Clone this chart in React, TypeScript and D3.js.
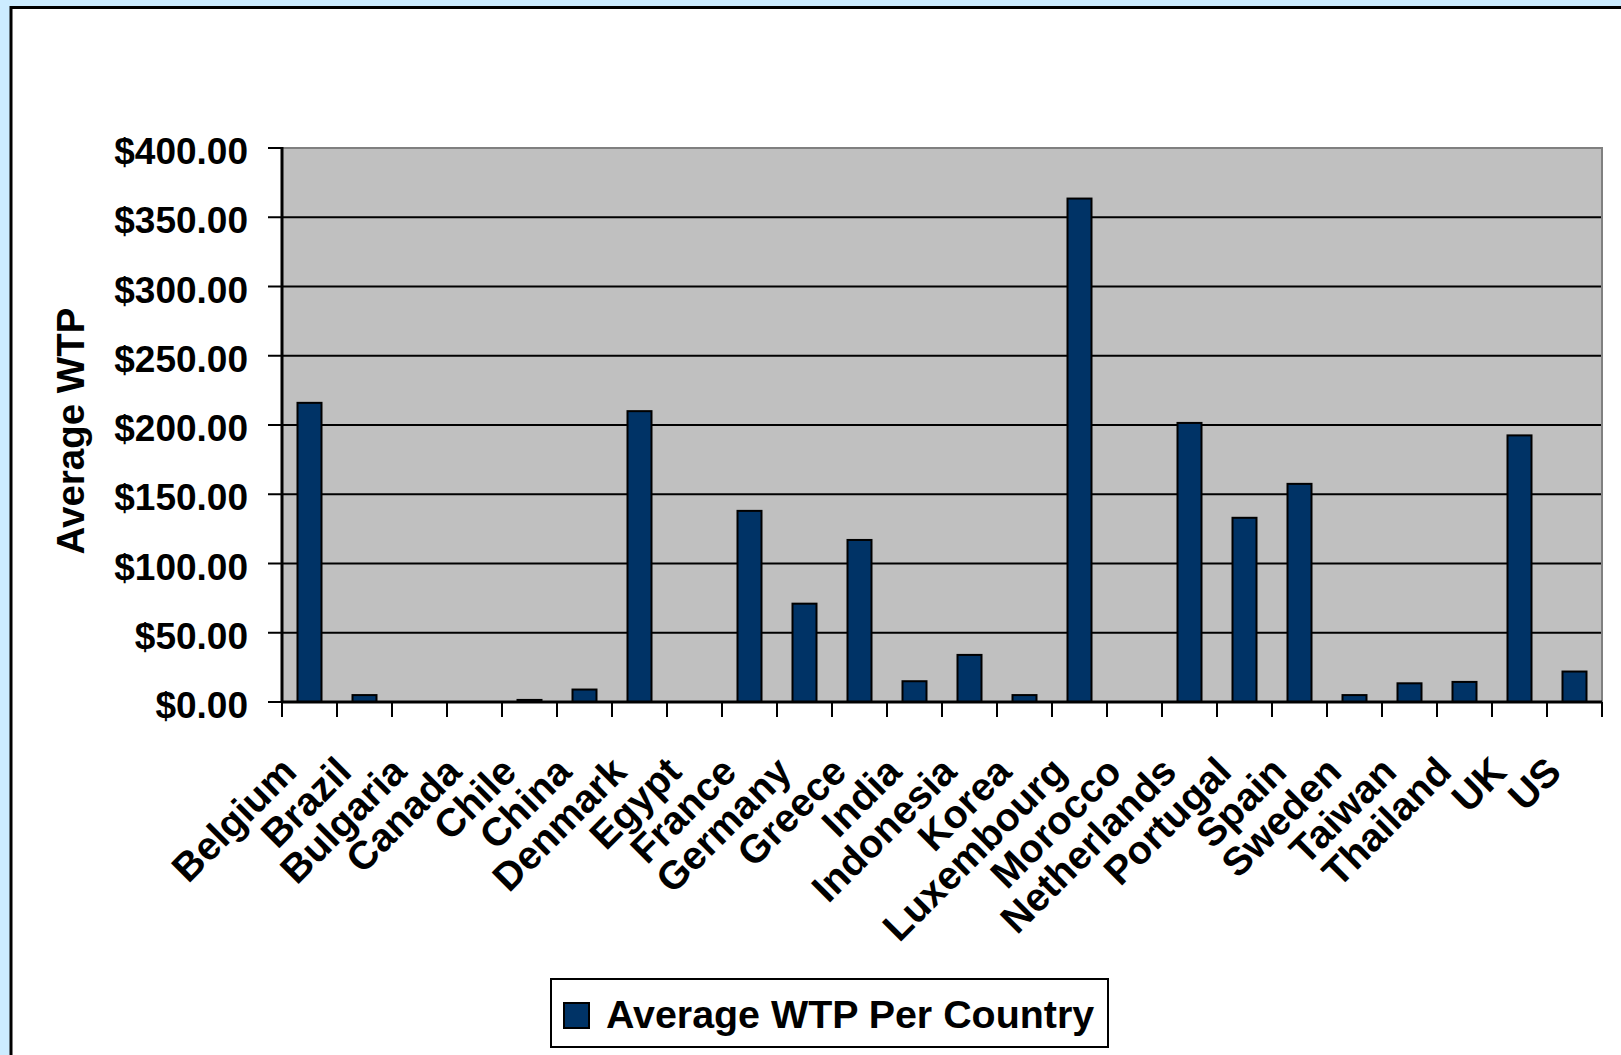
import React from "react";
import * as d3 from "d3";

// Average willingness-to-pay per country
const countries = [
  "Belgium", "Brazil", "Bulgaria", "Canada", "Chile", "China", "Denmark", "Egypt",
  "France", "Germany", "Greece", "India", "Indonesia", "Korea", "Luxembourg", "Morocco",
  "Netherlands", "Portugal", "Spain", "Sweden", "Taiwan", "Thailand", "UK", "US",
];
const avgWtp = [
  216, 5, 0, 0, 1.5, 9, 210, 0,
  138, 71, 117, 15, 34, 5, 363.5, 0,
  201.5, 133, 157.5, 5, 13.5, 14.5, 192.5, 22,
];
const yTicks = [0, 50, 100, 150, 200, 250, 300, 350, 400];
const seriesName = "Average WTP Per Country";
const yTitle = "Average WTP";

const W = 1621;
const H = 1055;
const plot = { left: 282, right: 1602, top: 148, bottom: 702 };
const FONT = "'Liberation Sans', Arial, Helvetica, sans-serif";
const NAVY = "#003366";

export default function App() {
  const x = d3
    .scaleBand<string>()
    .domain(countries)
    .range([plot.left, plot.right])
    .paddingInner(0)
    .paddingOuter(0);
  const y = d3.scaleLinear().domain([0, 400]).range([plot.bottom, plot.top]);
  const fmt = (v: number) => "$" + d3.format(",.2f")(v);
  const barW = 24;
  const bw = x.bandwidth();

  const data = countries.map((c, i) => ({ c, v: avgWtp[i] }));

  return (
    <div style={{ position: "fixed", left: 0, top: 0, width: W, height: H }}>
      <svg width={W} height={H} style={{ display: "block" }} fontFamily={FONT}>
        <rect x={0} y={0} width={W} height={H} fill="#CCECFF" />
        <rect x={11} y={7.5} width={W + 20} height={H + 20} fill="#FFFFFF" stroke="#000" strokeWidth={3} />

        {/* plot area */}
        <rect
          x={plot.left}
          y={plot.top}
          width={plot.right - plot.left}
          height={plot.bottom - plot.top}
          fill="#C0C0C0"
          stroke="#808080"
          strokeWidth={2}
        />

        {/* gridlines */}
        {yTicks
          .filter((t) => t > 0 && t < 400)
          .map((t) => (
            <line key={t} x1={plot.left} x2={plot.right - 1} y1={y(t)} y2={y(t)} stroke="#000" strokeWidth={2} />
          ))}

        {/* bars */}
        {data
          .filter((d) => d.v > 0)
          .map((d) => {
            const cx = (x(d.c) as number) + bw / 2;
            return (
              <rect
                key={d.c}
                x={cx - barW / 2}
                y={y(d.v)}
                width={barW}
                height={y(0) - y(d.v)}
                fill={NAVY}
                stroke="#000"
                strokeWidth={2}
              />
            );
          })}

        {/* y axis */}
        <line x1={plot.left} x2={plot.left} y1={plot.top - 1} y2={plot.bottom + 1} stroke="#000" strokeWidth={3} />
        {yTicks.map((t) => (
          <g key={t}>
            <line x1={plot.left - 14} x2={plot.left} y1={y(t)} y2={y(t)} stroke="#000" strokeWidth={2} />
            <text x={248} y={y(t) + 16} textAnchor="end" fontSize={37} fontWeight="bold" fill="#000">
              {fmt(t)}
            </text>
          </g>
        ))}

        {/* x axis */}
        <line x1={plot.left} x2={plot.right} y1={plot.bottom} y2={plot.bottom} stroke="#000" strokeWidth={3} />
        {[...countries.map((c) => x(c) as number), plot.right].map((px, i) => (
          <line key={i} x1={px} x2={px} y1={plot.bottom} y2={plot.bottom + 15} stroke="#000" strokeWidth={2} />
        ))}
        {countries.map((c) => {
          const cx = (x(c) as number) + bw / 2 - 11;
          const cy = plot.bottom + 72;
          return (
            <text
              key={c}
              transform={`translate(${cx},${cy}) rotate(-45)`}
              textAnchor="end"
              fontSize={39.5}
              fontWeight="bold"
              fill="#000"
            >
              {c}
            </text>
          );
        })}

        {/* y axis title */}
        <text
          transform={`translate(84,431) rotate(-90)`}
          textAnchor="middle"
          fontSize={38.5}
          fontWeight="bold"
          fill="#000"
        >
          {yTitle}
        </text>

        {/* legend */}
        <rect x={551} y={979} width={557} height={68} fill="#FFFFFF" stroke="#000" strokeWidth={2} />
        <rect x={564} y={1003} width={25} height={25} fill={NAVY} stroke="#000" strokeWidth={2} />
        <text x={606} y={1028} fontSize={39.4} fontWeight="bold" fill="#000">
          {seriesName}
        </text>
      </svg>
    </div>
  );
}
